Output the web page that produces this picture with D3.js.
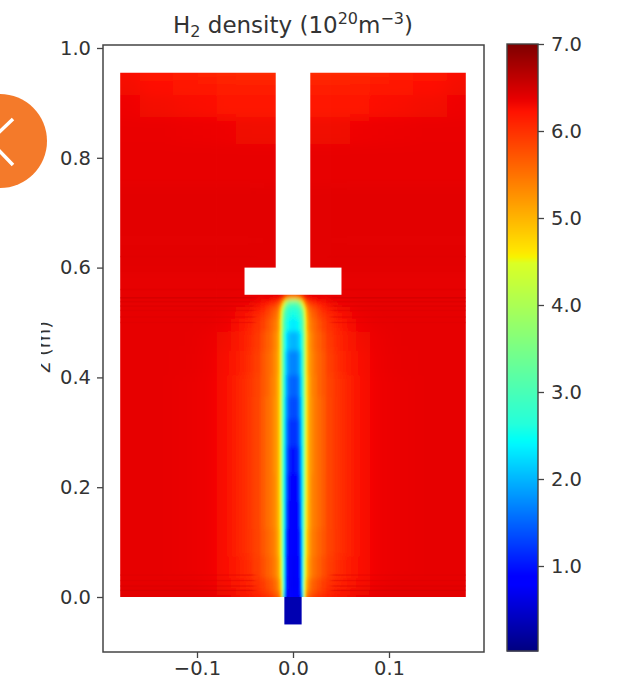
<!DOCTYPE html>
<html><head><meta charset="utf-8">
<script src="https://cdnjs.cloudflare.com/ajax/libs/d3/7.8.5/d3.min.js"></script>
<style>html,body{margin:0;padding:0;background:#fff}svg{display:block}text{font-family:"DejaVu Sans",sans-serif;fill:#333}</style>
</head><body><svg id="c" width="624" height="680"></svg>
<script>
const radii=[0,.002,.004,.006,.008,.010,.011,.012,.013,.014,.016,.018,.02,.023,.027,.032,.037,.05,.07,.09,.11,.14,.18];
const heights=[0,.008,.02,.05,.1,.15,.2,.25,.3,.35,.38,.43,.47,.5,.515,.525,.535,.54,.545,.55,.56,.58,.6,.7,.8,.85,.9,.93,.955];
const densityRows=[
[.8,.8,.8,.85,1.0,2.0,3.2,4.4,5.1,5.4,5.7,5.8,5.9,6.0,6.05,6.1,6.2,6.3,6.38,6.42,6.42,6.42,6.42],
[.8,.8,.8,.85,1.1,2.2,3.4,4.4,4.9,5.2,5.5,5.6,5.7,5.8,5.9,6.0,6.1,6.2,6.32,6.38,6.4,6.4,6.4],
[.75,.75,.75,.85,1.2,2.4,3.4,4.2,4.7,5.0,5.3,5.5,5.6,5.7,5.8,5.95,6.05,6.15,6.28,6.35,6.38,6.38,6.38],
[.75,.75,.8,.9,1.3,2.4,3.2,4.0,4.5,4.8,5.15,5.3,5.45,5.55,5.65,5.8,5.95,6.1,6.25,6.33,6.36,6.38,6.38],
[.8,.8,.85,1.0,1.4,2.4,3.1,3.8,4.4,4.7,5.05,5.25,5.4,5.5,5.6,5.75,5.9,6.05,6.25,6.33,6.36,6.38,6.38],
[.85,.85,.9,1.1,1.6,2.5,3.05,3.7,4.3,4.65,5.0,5.2,5.35,5.45,5.55,5.7,5.9,6.05,6.25,6.33,6.36,6.38,6.38],
[.9,.9,.95,1.2,1.7,2.5,3.0,3.6,4.2,4.6,5.0,5.2,5.35,5.45,5.55,5.7,5.9,6.05,6.25,6.33,6.36,6.38,6.38],
[1.0,1.0,1.1,1.3,1.8,2.5,3.0,3.6,4.2,4.6,5.0,5.2,5.3,5.45,5.55,5.7,5.9,6.05,6.25,6.33,6.36,6.38,6.38],
[1.2,1.2,1.25,1.45,1.9,2.55,3.0,3.6,4.2,4.6,5.0,5.2,5.3,5.45,5.55,5.7,5.9,6.05,6.25,6.33,6.36,6.38,6.38],
[1.35,1.35,1.4,1.6,2.0,2.6,3.05,3.6,4.2,4.6,5.0,5.2,5.3,5.45,5.55,5.7,5.9,6.05,6.25,6.33,6.36,6.38,6.38],
[1.5,1.5,1.55,1.7,2.1,2.7,3.1,3.65,4.25,4.65,5.0,5.2,5.35,5.45,5.6,5.75,5.9,6.05,6.25,6.33,6.36,6.38,6.38],
[1.7,1.7,1.75,1.9,2.2,2.8,3.2,3.7,4.3,4.7,5.05,5.25,5.35,5.5,5.6,5.75,5.95,6.1,6.26,6.34,6.37,6.38,6.38],
[2.0,2.0,2.05,2.15,2.4,2.9,3.3,3.8,4.35,4.75,5.1,5.3,5.4,5.55,5.65,5.8,6.0,6.15,6.3,6.35,6.38,6.38,6.38],
[2.35,2.35,2.4,2.5,2.7,3.1,3.5,3.95,4.45,4.85,5.2,5.4,5.5,5.6,5.75,5.9,6.05,6.2,6.33,6.37,6.38,6.38,6.38],
[2.55,2.55,2.6,2.7,2.9,3.3,3.7,4.1,4.6,4.95,5.3,5.5,5.6,5.7,5.85,6.0,6.1,6.25,6.35,6.38,6.38,6.38,6.38],
[2.7,2.7,2.75,2.85,3.1,3.6,4.0,4.4,4.8,5.1,5.45,5.6,5.7,5.8,5.95,6.1,6.2,6.3,6.36,6.38,6.38,6.38,6.38],
[3.0,3.0,3.1,3.3,3.7,4.3,4.7,5.0,5.3,5.5,5.7,5.85,5.95,6.0,6.1,6.2,6.3,6.33,6.38,6.38,6.38,6.38,6.38],
[3.6,3.6,3.7,4.0,4.5,5.0,5.3,5.5,5.7,5.85,6.0,6.1,6.15,6.2,6.25,6.3,6.33,6.36,6.38,6.38,6.38,6.38,6.38],
[4.8,4.8,4.9,5.1,5.4,5.7,5.85,5.95,6.05,6.15,6.25,6.3,6.3,6.33,6.36,6.38,6.38,6.38,6.38,6.38,6.38,6.38,6.38],
[6.1,6.1,6.1,6.15,6.2,6.25,6.3,6.35,6.38,6.38,6.38,6.38,6.38,6.38,6.38,6.38,6.38,6.38,6.38,6.38,6.38,6.38,6.38],
[6.38,6.38,6.38,6.38,6.38,6.38,6.38,6.38,6.38,6.38,6.38,6.38,6.38,6.38,6.38,6.38,6.38,6.38,6.38,6.38,6.38,6.38,6.38],
[6.38,6.38,6.38,6.38,6.38,6.38,6.38,6.38,6.38,6.38,6.38,6.38,6.38,6.38,6.38,6.38,6.38,6.38,6.38,6.38,6.38,6.38,6.38],
[6.4,6.4,6.4,6.4,6.4,6.4,6.4,6.4,6.4,6.4,6.4,6.4,6.4,6.4,6.4,6.4,6.4,6.4,6.4,6.4,6.4,6.4,6.4],
[6.4,6.4,6.4,6.4,6.4,6.4,6.4,6.4,6.4,6.4,6.4,6.4,6.4,6.4,6.4,6.4,6.4,6.4,6.4,6.4,6.4,6.4,6.4],
[6.37,6.37,6.37,6.37,6.37,6.37,6.37,6.37,6.37,6.37,6.37,6.37,6.37,6.37,6.37,6.37,6.37,6.37,6.37,6.37,6.37,6.37,6.37],
[6.32,6.32,6.32,6.32,6.32,6.32,6.32,6.32,6.32,6.32,6.32,6.32,6.32,6.32,6.32,6.32,6.32,6.32,6.33,6.34,6.35,6.36,6.36],
[6.22,6.22,6.22,6.22,6.22,6.22,6.22,6.22,6.22,6.22,6.22,6.22,6.22,6.22,6.22,6.22,6.22,6.22,6.23,6.25,6.27,6.3,6.33],
[6.14,6.14,6.14,6.14,6.14,6.14,6.14,6.14,6.14,6.14,6.14,6.14,6.14,6.14,6.14,6.14,6.14,6.14,6.16,6.18,6.2,6.24,6.3],
[6.06,6.06,6.06,6.06,6.06,6.06,6.06,6.06,6.06,6.06,6.06,6.06,6.06,6.06,6.06,6.06,6.06,6.06,6.08,6.1,6.13,6.18,6.27]
];
// thin horizontal streaks in the outer field: [height, density]
const streakHeights=[.012,.02,.03,.04,.5,.51,.522,.53,.538,.545,.56,.62];
const streakDensity=[6.55,6.48,6.46,6.45,6.43,6.45,6.46,6.5,6.5,6.62,6.45,6.43];
const nozzleDensity=.32;
const nozzleRadius=.009, nozzleDepth=-.05;
const stemRadius=.018, capRadius=.0505, capBottom=.5505, capTop=.6, fieldRadius=.18, fieldTop=.955;
const xTicks=[-.1,0,.1];
const zTicks=[0,.2,.4,.6,.8,1];
const barTicks=[1,2,3,4,5,6,7];
const jetStops=[0,.11,.125,.34,.35,.375,.64,.65,.66,.89,.91,1];
const jetColors=[[0,0,127],[0,0,255],[0,0,255],[0,245,255],[0,255,247],[36,255,219],[219,255,36],[247,243,0],[255,230,0],[255,18,0],[232,0,0],[127,0,0]];

const svg=d3.select("#c");
const x=d3.scaleLinear().domain([-.1,.1]).range([197,389]);
const z=d3.scaleLinear().domain([0,1]).range([597,48]);
const barY=d3.scaleLinear().domain([1,7]).range([566,44]);
const norm=d3.scaleLinear().domain([.02,7]).range([0,1]);
const jet=d3.scaleLinear().domain(jetStops).range(jetColors.map(c=>`rgb(${c})`)).clamp(true);
const color=v=>jet(norm(v));

const left=103,right=484,top_=45,bottom=652;
const defs=svg.append("defs");
const blur=(id,sd)=>defs.append("filter").attr("id",id).attr("filterUnits","userSpaceOnUse")
  .attr("x",0).attr("y",0).attr("width",624).attr("height",680)
  .append("feGaussianBlur").attr("stdDeviation",sd);
blur("softOuter","8 6"); blur("softCore","0.9 2.6"); blur("softStreak","2 0.6");
defs.append("clipPath").attr("id","domain").append("rect")
  .attr("x",x(-fieldRadius)).attr("y",z(fieldTop)).attr("width",x(fieldRadius)-x(-fieldRadius)).attr("height",z(0)-z(fieldTop));
defs.append("clipPath").attr("id","labelClip").append("rect").attr("x",41).attr("y",300).attr("width",40).attr("height",100);
// the core layer fades out sideways so that no edge shows against the outer field
const fade=defs.append("linearGradient").attr("id","coreFade").attr("gradientUnits","userSpaceOnUse")
  .attr("x1",x(-.046)).attr("x2",x(.046)).attr("y1",0).attr("y2",0);
[[0,0],[.2,1],[.8,1],[1,0]].forEach(([o,a])=>fade.append("stop").attr("offset",o).attr("stop-color","#fff").attr("stop-opacity",a));
defs.append("mask").attr("id","coreMask").attr("maskUnits","userSpaceOnUse").attr("x",0).attr("y",0).attr("width",624).attr("height",680)
  .append("rect").attr("x",0).attr("y",0).attr("width",624).attr("height",680).attr("fill","url(#coreFade)");

// heat map cells: outermost rows and columns run past the clip so blurring keeps the edges opaque
const edges=(a,pad)=>a.map((v,i)=>i===0?[v-(pad[0]),(v+a[1])/2]:i===a.length-1?[(a[i-1]+v)/2,v+pad[1]]:[(a[i-1]+v)/2,(v+a[i+1])/2]);
const rEdges=edges(radii,[0,.05]), zEdges=edges(heights,[.06,.06]);
const cells=[];
densityRows.forEach((row,i)=>row.forEach((v,j)=>{
  const c={z0:zEdges[i][0],z1:zEdges[i][1],v,j,i};
  cells.push({...c,r0:rEdges[j][0],r1:rEdges[j][1]});
  cells.push({...c,r0:-rEdges[j][1],r1:-rEdges[j][0]});
}));
const coreCols=18, coreRows=21;
const field=svg.append("g").attr("clip-path","url(#domain)");
const draw=(g,data)=>g.selectAll("rect").data(data).join("rect")
  .attr("x",d=>x(d.r0)).attr("width",d=>x(d.r1)-x(d.r0)+.6)
  .attr("y",d=>z(d.z1)).attr("height",d=>z(d.z0)-z(d.z1)+.6)
  .attr("fill",d=>color(d.v));
draw(field.append("g").attr("filter","url(#softOuter)"),cells);
draw(field.append("g").attr("mask","url(#coreMask)").append("g").attr("filter","url(#softCore)"),cells.filter(d=>d.j<coreCols&&d.i<coreRows));

// streaks
const streaks=field.append("g").attr("filter","url(#softStreak)").attr("opacity",.4);
streakHeights.forEach((h,i)=>{
  [[-fieldRadius-.02,-.04],[.04,fieldRadius+.02]].forEach(([a,b])=>{
    streaks.append("rect").attr("x",x(a)).attr("width",x(b)-x(a)).attr("y",z(h)-.7).attr("height",1.4).attr("fill",color(streakDensity[i]));
  });
});

// excluded geometry
svg.append("rect").attr("x",x(-stemRadius)).attr("width",x(stemRadius)-x(-stemRadius))
  .attr("y",z(fieldTop)-1).attr("height",z(capTop)-z(fieldTop)+2).attr("fill","#fff");
svg.append("rect").attr("x",x(-capRadius)).attr("width",x(capRadius)-x(-capRadius))
  .attr("y",z(capTop)).attr("height",z(capBottom)-z(capTop)).attr("fill","#fff");
svg.append("rect").attr("x",x(-nozzleRadius)).attr("width",x(nozzleRadius)-x(-nozzleRadius))
  .attr("y",z(0)).attr("height",z(nozzleDepth)-z(0)).attr("fill",color(nozzleDensity));

// axes
const axisColor="#444";
const tickFont="19.5px";
const xAxis=d3.axisBottom(x).tickValues(xTicks).tickSize(6).tickPadding(3.2).tickFormat(d3.format(".1f"));
const yAxis=d3.axisLeft(z).tickValues(zTicks).tickSize(6).tickPadding(6).tickFormat(d3.format(".1f"));
const gx=svg.append("g").attr("transform",`translate(0,${bottom})`).call(xAxis);
const gy=svg.append("g").attr("transform",`translate(${left},0)`).call(yAxis);
[gx,gy].forEach(g=>{g.select(".domain").remove();g.selectAll("line").attr("stroke",axisColor).attr("stroke-width",1.3);
  g.selectAll("text").style("font-size",tickFont).style("font-family","'DejaVu Sans'").attr("fill","#333");});
svg.append("rect").attr("x",left).attr("y",top_).attr("width",right-left).attr("height",bottom-top_)
  .attr("fill","none").attr("stroke",axisColor).attr("stroke-width",1.5);

// colour bar
const barVals=d3.range(0,607).map(i=>barY.invert(44+i));
svg.append("g").selectAll("rect").data(barVals).join("rect")
  .attr("x",507).attr("width",31).attr("y",d=>barY(d)).attr("height",1.5).attr("fill",d=>color(d));
svg.append("rect").attr("x",507).attr("y",44).attr("width",31).attr("height",607)
  .attr("fill","none").attr("stroke",axisColor).attr("stroke-width",1.4);
const barAxis=d3.axisRight(barY).tickValues(barTicks).tickSize(6).tickPadding(7).tickFormat(d3.format(".1f"));
const gb=svg.append("g").attr("transform","translate(538,0)").call(barAxis);
gb.select(".domain").remove();
gb.selectAll("line").attr("stroke",axisColor).attr("stroke-width",1.3);
gb.selectAll("text").style("font-size",tickFont).style("font-family","'DejaVu Sans'").attr("fill","#333");

// title
const t=svg.append("text").attr("x",293).attr("y",33).attr("text-anchor","middle").style("font-size","23px");
t.append("tspan").text("H");
t.append("tspan").attr("dy",4).style("font-size","16px").text("2");
t.append("tspan").attr("dy",-4).text(" density (10");
t.append("tspan").attr("dy",-9).style("font-size","16px").text("20");
t.append("tspan").attr("dy",9).text("m");
t.append("tspan").attr("dy",-9).style("font-size","16px").text("−3");
t.append("tspan").attr("dy",9).text(")");

// y label, partly hidden in the source
svg.append("g").attr("clip-path","url(#labelClip)")
  .append("text").attr("transform","translate(50,347) rotate(-90)").attr("text-anchor","middle")
  .style("font-size","20px").text("z (m)");

// page overlay button
svg.append("circle").attr("cx",0).attr("cy",141).attr("r",47).attr("fill","#f47a2a");
const chevron=[[13,119],[-10,141],[13,165]];
svg.append("path").attr("d",d3.line()(chevron)).attr("fill","none").attr("stroke","#fff").attr("stroke-width",3.5);
</script></body></html>
